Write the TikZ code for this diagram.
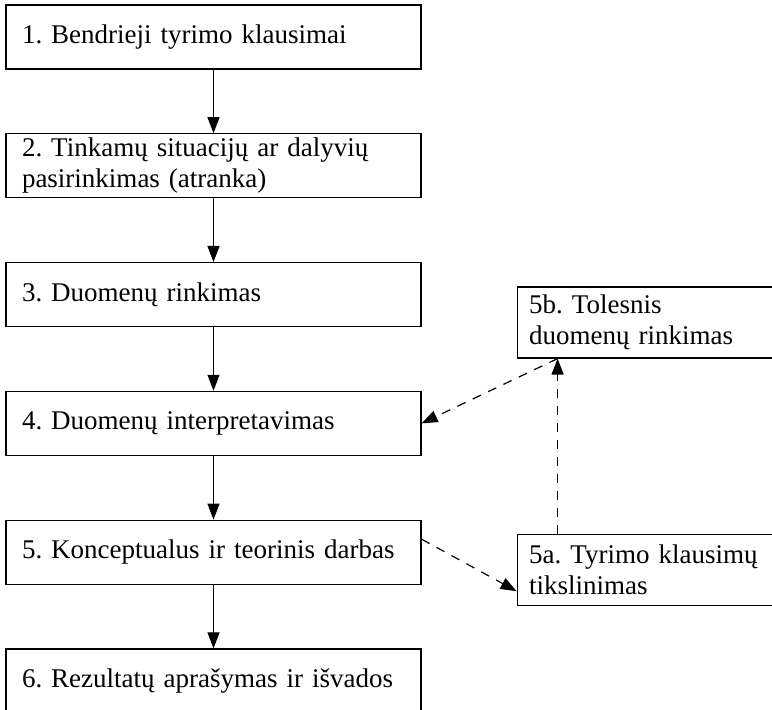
\documentclass[tikz,border=0pt]{standalone}
\usepackage{fontspec}
\setmainfont{Liberation Serif}
\usepackage{tikz}
\usetikzlibrary{positioning,arrows.meta}
\frenchspacing

\begin{document}
\begin{tikzpicture}[->,>={Triangle[length=8pt,width=6pt]},semithick,node distance=64.4pt,
    font=\fontsize{13.5}{15.5}\selectfont,
    etapas/.style={draw,rectangle,inner xsep=8pt,inner ysep=1pt,text width=191.5pt,minimum height=32pt,align=left},
    papild/.style={draw,rectangle,inner xsep=6pt,inner ysep=1pt,text width=138pt,minimum height=35.5pt,align=left},
    brukn/.style={dash pattern=on 4.5pt off 4pt}]
    \useasboundingbox (0,0) rectangle (386pt,355pt);
    \clip (0,0) rectangle (386pt,355pt);

    \node[etapas] (e1) at (106.75pt,336.5pt) {1. Bendrieji tyrimo klausimai};
    \node[etapas] (e2) [below of=e1] {2. Tinkamų situacijų ar dalyvių\\pasirinkimas (atranka)};
    \node[etapas] (e3) [below of=e2] {3. Duomenų rinkimas};
    \node[etapas] (e4) [below of=e3] {4. Duomenų interpretavimas};
    \node[etapas] (e5) [below of=e4] {5. Konceptualus ir teorinis darbas};
    \node[etapas] (e6) [below of=e5] {6. Rezultatų aprašymas ir išvados};
    \node[papild] (k5a) [right=47.5pt of e5, yshift=-8.75pt] {5a. Tyrimo klausimų\\tikslinimas};
    \node[papild] (k5b) [above=87.5pt of k5a] {5b. Tolesnis\\duomenų rinkimas};

    \path
    (e1) edge (e2)
    (e2) edge (e3)
    (e3) edge (e4)
    (e4) edge (e5)
    (e5) edge (e6);

    \path[brukn]
    ([yshift=6.5pt]e5.east) edge ([yshift=-10.75pt]k5a.west)
    ([xshift=20.5pt]k5a.north west) edge ([xshift=20.5pt]k5b.south west)
    ([xshift=20.5pt]k5b.south west) edge (e4.east);
\end{tikzpicture}
\end{document}
